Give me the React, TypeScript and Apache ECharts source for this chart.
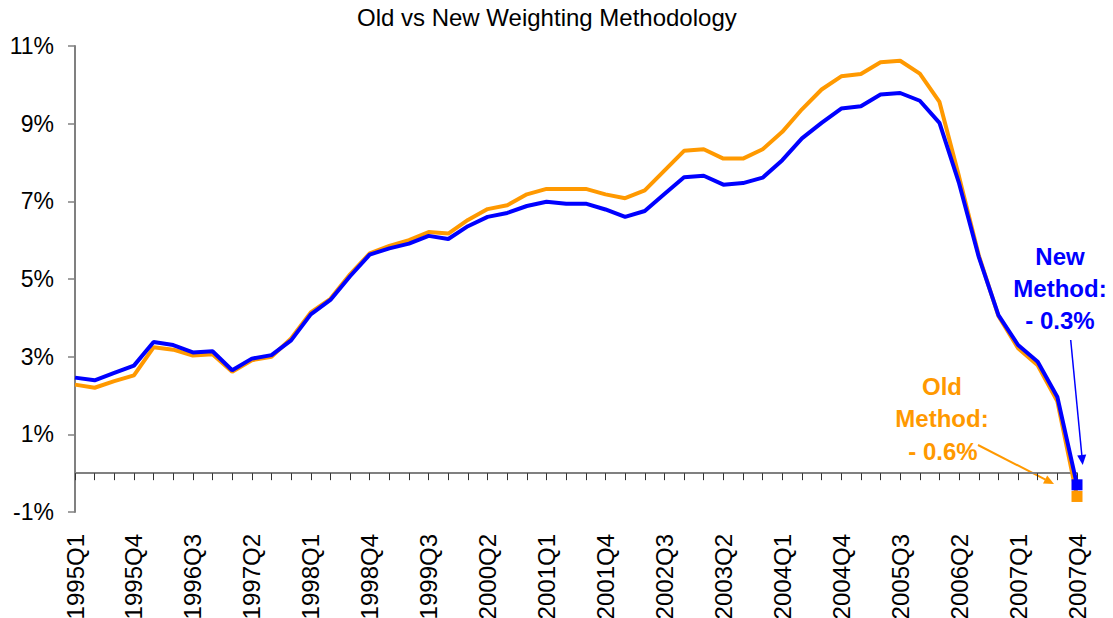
import React, { useEffect, useRef } from "react";
import * as echarts from "echarts";

const years = [1995, 1996, 1997, 1998, 1999, 2000, 2001, 2002, 2003, 2004, 2005, 2006, 2007];
const quarterNames = ["Q1", "Q2", "Q3", "Q4"];
const quarters: string[] = [];
years.forEach((y) => quarterNames.forEach((q) => quarters.push(`${y}${q}`)));

const oldMethod = [
  2.28, 2.2, 2.37, 2.52, 3.24, 3.18, 3.03, 3.06, 2.61, 2.91, 3.0, 3.47, 4.14,
  4.49, 5.12, 5.66, 5.85, 6.0, 6.21, 6.17, 6.52, 6.8, 6.9, 7.18, 7.32, 7.32,
  7.32, 7.18, 7.08, 7.28, 7.79, 8.3, 8.34, 8.1, 8.1, 8.34, 8.79, 9.37, 9.88,
  10.22, 10.28, 10.58, 10.62, 10.29, 9.56, 7.63, 5.61, 4.05, 3.22, 2.78, 1.85,
  -0.6,
];

const newMethod = [
  2.46, 2.39, 2.58, 2.77, 3.38, 3.3, 3.11, 3.14, 2.65, 2.95, 3.04, 3.42, 4.09,
  4.46, 5.07, 5.63, 5.79, 5.91, 6.11, 6.03, 6.36, 6.6, 6.7, 6.88, 6.99, 6.94,
  6.94, 6.79, 6.6, 6.75, 7.19, 7.62, 7.66, 7.43, 7.47, 7.61, 8.06, 8.62, 9.02,
  9.39, 9.45, 9.75, 9.79, 9.59, 9.02, 7.46, 5.57, 4.07, 3.3, 2.87, 1.96, -0.3,
];

const yMin = -1;
const yMax = 11;
const yStep = 2;

const FONT = "'Liberation Sans', Arial, Helvetica, sans-serif";
const BLUE = "#0000FF";
const ORANGE = "#FF9900";

function withEndMarker(values: number[]) {
  return values.map((v, i) =>
    i === values.length - 1
      ? { value: v, symbol: "rect", symbolSize: 11 }
      : { value: v, symbol: "none" }
  );
}

export default function App() {
  const ref = useRef<HTMLDivElement>(null);

  useEffect(() => {
    if (!ref.current) return;
    const chart = echarts.init(ref.current, null, { renderer: "svg" });

    const annoText = (text: string, x: number, y: number, color: string) => ({
      type: "text",
      x,
      y,
      style: {
        text,
        fill: color,
        font: `bold 24px ${FONT}`,
        align: "center",
        verticalAlign: "middle",
      },
    });

    chart.setOption({
      animation: false,
      backgroundColor: "#ffffff",
      title: {
        text: "Old vs New Weighting Methodology",
        left: 357,
        top: 5,
        padding: 0,
        textStyle: {
          fontFamily: FONT,
          fontSize: 24,
          fontWeight: "normal",
          color: "#000",
        },
      },
      grid: {
        left: 75,
        right: 36,
        top: 46,
        bottom: 106,
        containLabel: false,
        outerBoundsMode: "none",
      },
      xAxis: [
        {
          type: "category",
          data: quarters,
          boundaryGap: false,
          position: "bottom",
          axisLine: { show: false, onZero: false },
          axisTick: { show: false },
          splitLine: { show: false },
          axisLabel: {
            interval: 2,
            rotate: 90,
            fontSize: 24,
            fontFamily: FONT,
            color: "#000",
            margin: 22,
          },
        },
        {
          type: "category",
          data: quarters,
          boundaryGap: false,
          position: "bottom",
          axisLine: {
            show: true,
            onZero: true,
            onZeroAxisIndex: 0,
            lineStyle: { color: "#808080", width: 2 },
          },
          axisTick: {
            show: true,
            interval: 0,
            length: 7,
            lineStyle: { color: "#333", width: 1 },
          },
          axisLabel: { show: false },
          splitLine: { show: false },
        },
      ],
      yAxis: {
        type: "value",
        min: yMin,
        max: yMax,
        interval: yStep,
        axisLine: { show: true, lineStyle: { color: "#808080", width: 2 } },
        axisTick: { show: true, length: 7, lineStyle: { color: "#808080", width: 1.5 } },
        splitLine: { show: false },
        axisLabel: {
          formatter: "{value}%",
          fontSize: 23,
          fontFamily: FONT,
          color: "#000",
          margin: 21,
        },
      },
      series: [
        {
          name: "Old Method",
          type: "line",
          data: withEndMarker(oldMethod),
          showSymbol: true,
          lineStyle: { color: ORANGE, width: 4 },
          itemStyle: { color: ORANGE },
          z: 2,
        },
        {
          name: "New Method",
          type: "line",
          data: withEndMarker(newMethod),
          showSymbol: true,
          lineStyle: { color: BLUE, width: 4 },
          itemStyle: { color: BLUE },
          z: 3,
        },
      ],
      graphic: [
        annoText("New", 1060, 256, BLUE),
        annoText("Method:", 1060, 288, BLUE),
        annoText("- 0.3%", 1060, 320, BLUE),
        annoText("Old", 942, 386, ORANGE),
        annoText("Method:", 942, 418, ORANGE),
        annoText("- 0.6%", 943, 451, ORANGE),
        {
          type: "line",
          shape: { x1: 1070.7, y1: 340, x2: 1081.8, y2: 455 },
          style: { stroke: BLUE, lineWidth: 1.5 },
        },
        {
          type: "polygon",
          shape: {
            points: [
              [1082.7, 465],
              [1086.2, 454.6],
              [1077.2, 455.4],
            ],
          },
          style: { fill: BLUE },
        },
        {
          type: "line",
          shape: { x1: 978, y1: 445, x2: 1045.5, y2: 479.6 },
          style: { stroke: ORANGE, lineWidth: 2 },
        },
        {
          type: "polygon",
          shape: {
            points: [
              [1054, 484],
              [1047.2, 475.4],
              [1043.0, 483.4],
            ],
          },
          style: { fill: ORANGE },
        },
      ],
    });

    return () => chart.dispose();
  }, []);

  return (
    <div
      ref={ref}
      style={{
        position: "fixed",
        left: 0,
        top: 0,
        width: 1113,
        height: 618,
        background: "#fff",
      }}
    />
  );
}
